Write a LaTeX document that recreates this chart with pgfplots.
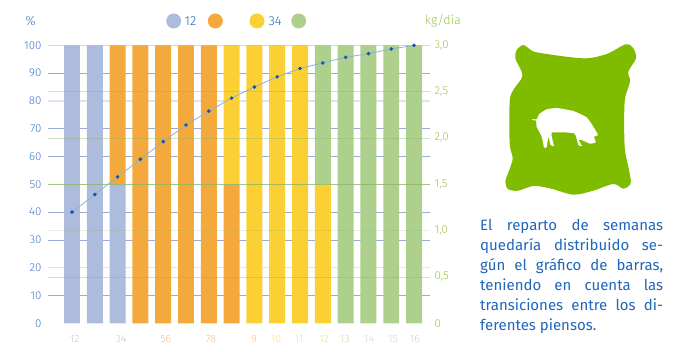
\documentclass[border=0pt]{standalone}
\usepackage{pgfplots}
\pgfplotsset{compat=1.18}
\usepackage{fontspec}
\setmainfont{Fira Sans Light}
\newfontfamily\parafont{Fira Sans}
\definecolor{cblue}{HTML}{ADBCDC}
\definecolor{corange}{HTML}{F3A93C}
\definecolor{cyellow}{HTML}{FBD034}
\definecolor{cgreen}{HTML}{ADD08C}
\definecolor{tblue}{HTML}{4079C8}
\definecolor{dblue}{HTML}{1F66BC}
\definecolor{tgreen}{HTML}{9BC545}
\definecolor{bag}{HTML}{7FBC00}
\definecolor{gridb}{HTML}{5F7FC0}
\definecolor{gridg}{HTML}{8DB56A}
\definecolor{curve}{HTML}{8FB0D8}
\definecolor{cmark}{HTML}{1255B0}
\newcommand{\jline}[1]{\hbox to 183pt{#1}}
\begin{document}
\begin{tikzpicture}[x=1pt,y=1pt]
\path[use as bounding box] (0,0) rectangle (700,352);
\begin{axis}[
  at={(48pt,28.7pt)},anchor=south west,
  width=382pt,height=278pt,scale only axis,
  xmin=-0.0526,xmax=16.70,ymin=0,ymax=100,
  ybar stacked,bar width=0.70,
  axis line style={draw=none},
  major tick length=0pt,
  ytick={0,10,...,100},
  yticklabels={0,10,20,30,40,50,60,70,80,90,100},
  yticklabel style={font=\fontsize{11.5}{11.5}\selectfont,text=tblue,anchor=east,xshift=-3pt},
  xtick={1.12,3.14,5.11,7.10,8.98,9.95,10.96,12.05,12.97,14.03,15.08,16.04},
  xticklabels={
    \textcolor{cblue!80}{12},\textcolor{cblue!80}{34},
    \textcolor{corange!70}{56},\textcolor{corange!70}{78},\textcolor{corange!70}{9},
    \textcolor{cyellow!70}{10},\textcolor{cyellow!70}{11},\textcolor{cyellow!70}{12},
    \textcolor{cgreen!70}{13},\textcolor{cgreen!70}{14},\textcolor{cgreen!70}{15},\textcolor{cgreen!70}{16}},
  xticklabel style={font=\fontsize{10.5}{10.5}\selectfont,anchor=center,yshift=-16pt},
  clip=false,
]
\addplot[fill=cblue,draw=none] coordinates {(1,100)(2,100)(3,50)(4,0)(5,0)(6,0)(7,0)(8,0)(9,0)(10,0)(11,0)(12,0)(13,0)(14,0)(15,0)(16,0)};
\addplot[fill=corange,draw=none] coordinates {(1,0)(2,0)(3,50)(4,100)(5,100)(6,100)(7,100)(8,50)(9,0)(10,0)(11,0)(12,0)(13,0)(14,0)(15,0)(16,0)};
\addplot[fill=cyellow,draw=none] coordinates {(1,0)(2,0)(3,0)(4,0)(5,0)(6,0)(7,0)(8,50)(9,100)(10,100)(11,100)(12,50)(13,0)(14,0)(15,0)(16,0)};
\addplot[fill=cgreen,draw=none] coordinates {(1,0)(2,0)(3,0)(4,0)(5,0)(6,0)(7,0)(8,0)(9,0)(10,0)(11,0)(12,50)(13,100)(14,100)(15,100)(16,100)};
\foreach \v in {10,30,40,60,70,90}{
  \edef\tmp{\noexpand\draw[gridb,opacity=.65,line width=.7pt] (axis cs:-0.0526,\v) -- (axis cs:16.70,\v);}\tmp}
\foreach \v in {20,80}{
  \edef\tmp{\noexpand\draw[gridb,opacity=.22,line width=1.6pt] (axis cs:-0.0526,\v) -- (axis cs:16.70,\v);}\tmp}
\end{axis}
\begin{axis}[
  at={(48pt,28.7pt)},anchor=south west,
  width=382pt,height=278pt,scale only axis,
  xmin=-0.0526,xmax=16.70,ymin=0,ymax=3,
  axis line style={draw=none},
  major tick length=0pt,
  xtick=\empty,
  axis y line*=right,
  ytick={0,0.5,1,1.5,2,2.5,3},
  yticklabels={0,{0,5},{1,0},{1,5},{2,0},{2,5},{3,0}},
  yticklabel style={font=\fontsize{11.5}{11.5}\selectfont,text=tgreen,anchor=west,xshift=1pt},
  clip=false,
]
\foreach \v in {0.5,2.5,2,3}{
  \edef\tmp{\noexpand\draw[gridg,opacity=.4,line width=.6pt] (axis cs:-0.0526,\v) -- (axis cs:16.70,\v);}\tmp}
\draw[gridg,opacity=.8,line width=.8pt] (axis cs:-0.0526,1.5) -- (axis cs:16.70,1.5);
\draw[gridg,opacity=.2,line width=1.6pt] (axis cs:-0.0526,1) -- (axis cs:16.70,1);
\addplot[curve,line width=.8pt,mark=*,mark size=1.4pt,mark options={draw=cmark,fill=cmark}] coordinates {
(1,1.20)(2,1.39)(3,1.58)(4,1.77)(5,1.96)(6,2.14)(7,2.29)(8,2.43)(9,2.55)(10,2.66)(11,2.75)(12,2.81)(13,2.87)(14,2.91)(15,2.96)(16,3.0)};
\end{axis}
% legend and headers
\fill[cblue] (173.7,331) circle (7.5);
\fill[corange] (215.3,331) circle (7.5);
\fill[cyellow] (257,331) circle (7.5);
\fill[cgreen] (298.7,331) circle (7.5);
\node[anchor=west,inner sep=0,text=dblue,font=\fontsize{13}{13}\selectfont] at (184.5,331) {12};
\node[anchor=west,inner sep=0,text=dblue,font=\fontsize{13}{13}\selectfont] at (268.5,331) {34};
\node[anchor=center,inner sep=0,text=tblue,font=\fontsize{13}{13}\selectfont] at (30.5,331) {\%};
\node[anchor=west,inner sep=0,text=tgreen,font=\fontsize{12.5}{12.5}\selectfont] at (425,331) {kg/día};
% text
\begin{scope}[every node/.style={anchor=base west,inner sep=0,text=dblue,font=\parafont\fontsize{15}{15}\selectfont}]
\node at (480,121) {\jline{El\hfill reparto\hfill de\hfill semanas}};
\node at (480,101) {\jline{quedaría\hfill distribuido\hfill se-}};
\node at (480,81) {\jline{gún\hfill el\hfill gráfico\hfill de\hfill barras,}};
\node at (480,61) {\jline{teniendo\hfill en\hfill cuenta\hfill las}};
\node at (480,41) {\jline{transiciones\hfill entre\hfill los\hfill di-}};
\node at (480,21) {ferentes piensos.};
\end{scope}
% icon
\begin{scope}[shift={(480,322)},x=0.3333pt,y=-0.3333pt]
\fill[bag] plot[smooth cycle,tension=.5] coordinates {(130,45)(110,60)(106,85)(125,125)(125,145)(100,180)(89,215)(89,340)(98,385)(88,420)(76,455)(85,478)(115,482)(160,468)(210,475)(280,494)(340,482)(400,462)(430,476)(452,460)(447,420)(434,350)(434,215)(450,155)(445,125)(468,85)(460,55)(437,43)(380,72)(310,85)(175,68)(150,58)};
\fill[white] plot[smooth cycle,tension=.25] coordinates {(157,267)(170,268)(178,252)(200,238)(230,234)(280,243)(320,262)(340,290)(354,315)(342,320)(347,337)(330,341)(305,330)(296,330)(306,348)(295,345)(283,310)(215,308)(222,348)(212,345)(205,320)(200,352)(192,352)(185,320)(170,290)(168,272)(157,270)};
\end{scope}
\end{tikzpicture}
\end{document}
